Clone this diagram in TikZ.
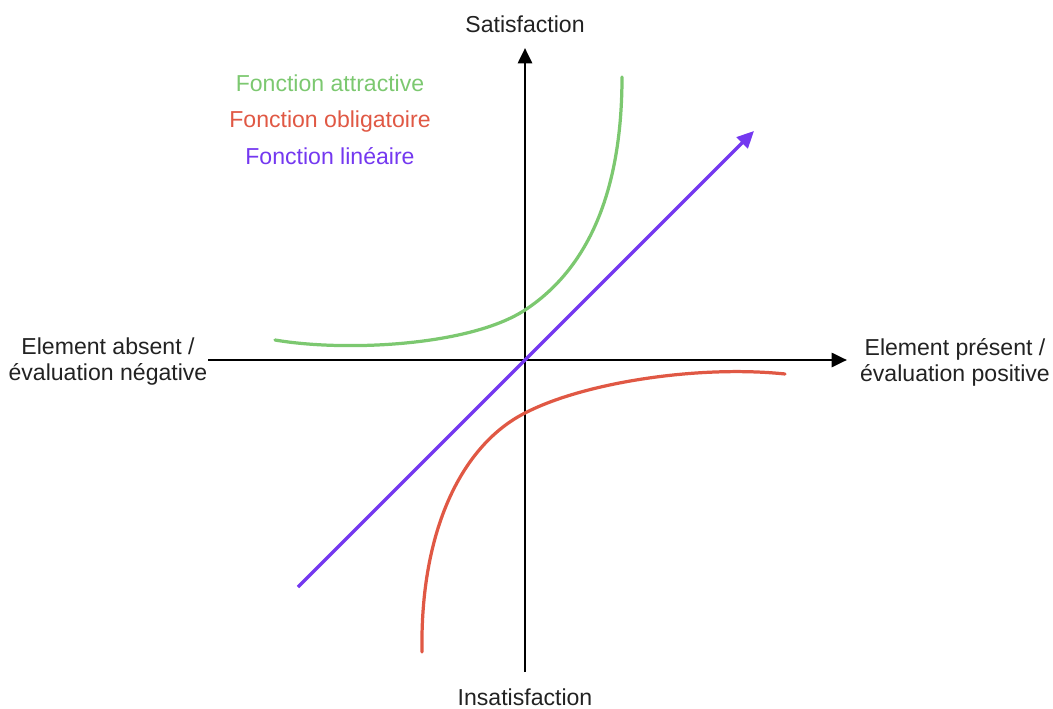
\documentclass[tikz,border=0pt]{standalone}
\usepackage{fontspec}
\setmainfont{Liberation Sans}
\usepackage{xcolor}
\usepackage{tikz}
\usetikzlibrary{arrows.meta, positioning}
\definecolor{attractgreen}{RGB}{124,200,112}
\definecolor{obligred}{RGB}{224,88,68}
\definecolor{linviolet}{RGB}{116,56,240}
\definecolor{labelgray}{RGB}{34,34,34}
\tikzset{
  axis/.style={
    -{Triangle[length=11pt, width=10pt]}, line width=2.1pt, draw=black
  },
  axislabel/.style={
    font=\fontsize{16.4}{18.5}\selectfont, text=labelgray,
    align=center, inner sep=0pt
  },
  legendtext/.style={
    font=\fontsize{16.4}{18.5}\selectfont, inner sep=0pt, anchor=base
  },
  curve/.style={line width=2.3pt, line cap=round},
  linarrow/.style={
    -{Triangle[length=12pt, width=11pt]}, line width=2.3pt, draw=linviolet
  },
}

\begin{document}
\begin{tikzpicture}[x=0.025cm, y=-0.025cm]
    \useasboundingbox (0,0) rectangle (1053,709);

    % axes
    \coordinate (origin) at (525,360);
    \coordinate (xmin) at (208,360);
    \coordinate (xmax) at (847,360);
    \coordinate (ymin) at (525,672);
    \coordinate (ymax) at (525,48);

    \node[axislabel] (sat) at (525,24) {Satisfaction};
    \node[axislabel] (insat) at (525,697) {Insatisfaction};
    \node[axislabel] (absent) at (108,362) {Element absent /\\évaluation négative};
    \node[axislabel] (present) at (955,362) {Element présent /\\évaluation positive};

    \draw[axis] (xmin) -- (xmax);
    \draw[axis] (ymin) -- (ymax);

    % legend
    \node[legendtext, text=attractgreen] (attr) at (330,92) {Fonction attractive};
    \node[legendtext, text=obligred] (oblig) at (330,128) {Fonction obligatoire};
    \node[legendtext, text=linviolet] (lin) at (330,165) {Fonction linéaire};

    % curves
    \draw[curve, attractgreen] (275,340) .. controls (345,352) and (470,346) .. (525,310)
        .. controls (583,272) and (622,200) .. (622,77);
    \draw[curve, obligred] (422,652) .. controls (420,530) and (462,445) .. (525,413)
        .. controls (585,382) and (700,365) .. (785,374);

    \coordinate (linstart) at (298,587);
    \coordinate (linend) at (754,131);
    \draw[linarrow] (linstart) -- (linend);
  \end{tikzpicture}
\end{document}
